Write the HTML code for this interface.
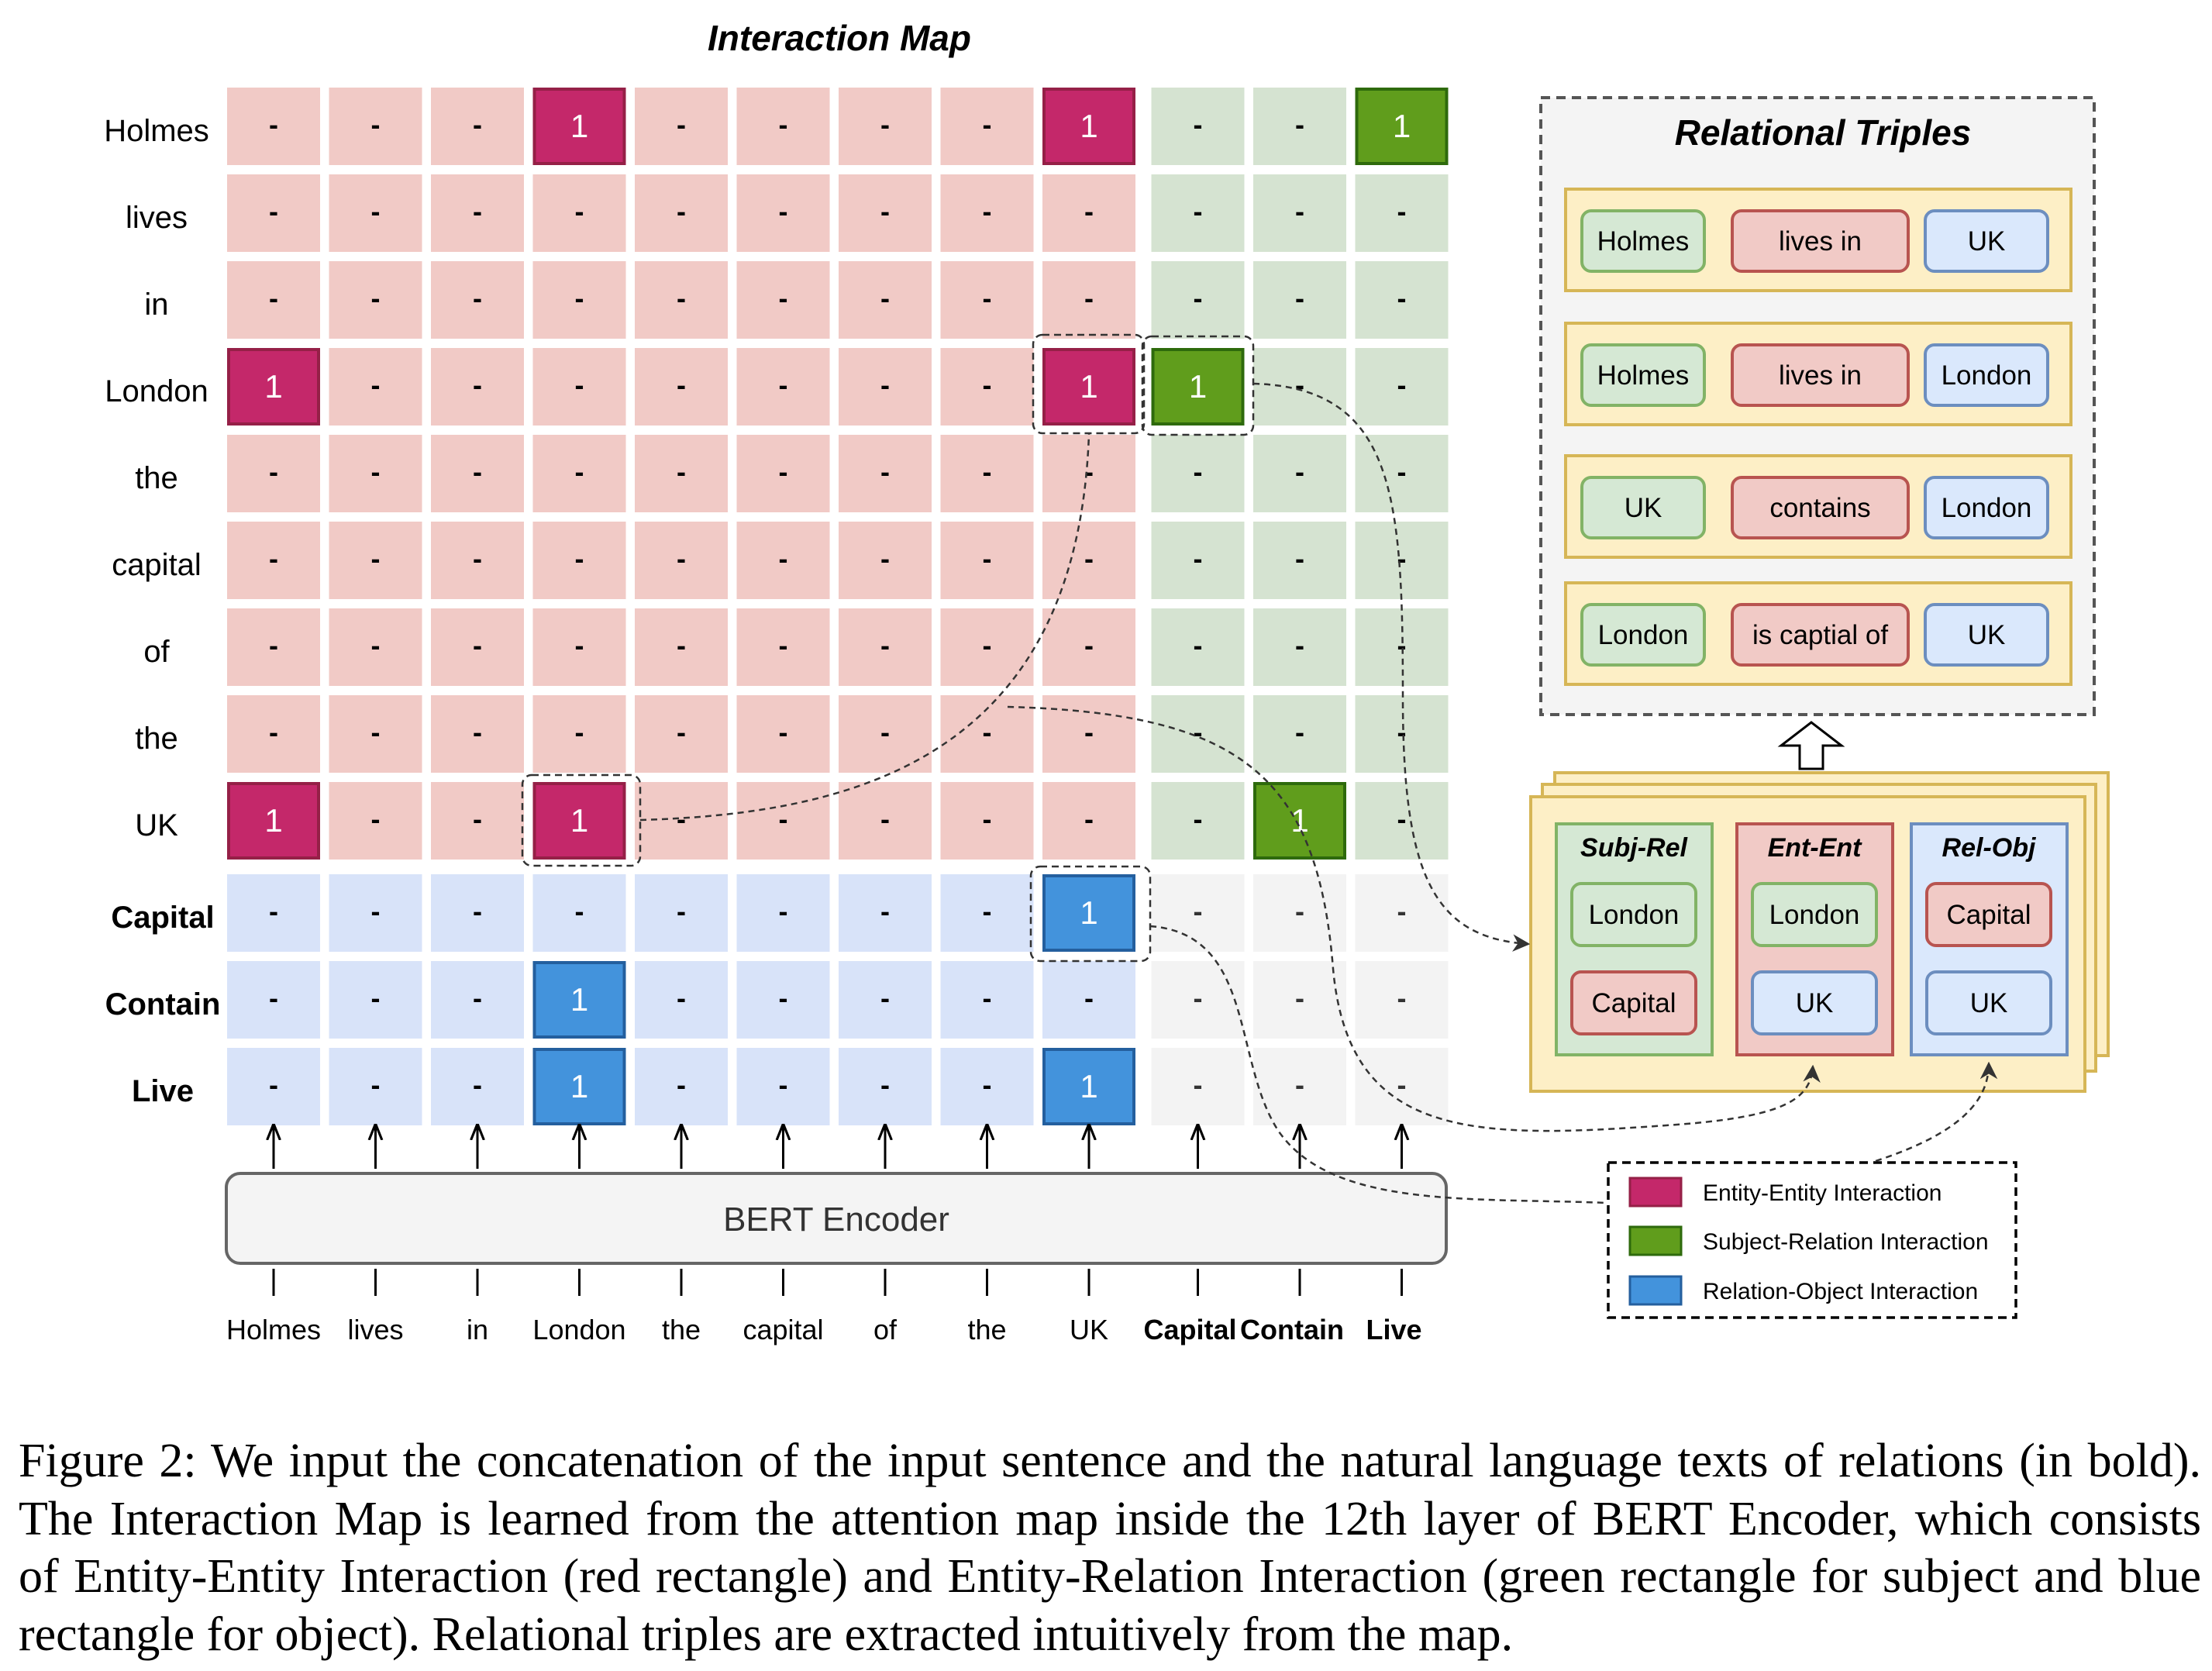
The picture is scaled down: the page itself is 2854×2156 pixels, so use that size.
<!DOCTYPE html>
<html><head><meta charset="utf-8"><style>
html,body{margin:0;padding:0;background:#fff;}
#wrap{position:relative;width:2854px;height:2156px;overflow:hidden;}
svg{position:absolute;left:0;top:0;}
#caption{position:absolute;left:24px;top:1848px;width:2816px;font-family:"Liberation Serif",serif;font-size:62px;line-height:74.5px;color:#000;}
#caption .ln{text-align:justify;text-align-last:justify;white-space:nowrap;}
#caption .ln.last{text-align-last:left;}
</style></head><body>
<div id="wrap">
<svg id="fig" width="2854" height="1840" viewBox="0 0 2854 1840" xmlns="http://www.w3.org/2000/svg">
<defs>
<marker id="ah" viewBox="0 0 10 10" refX="9" refY="5" markerWidth="9" markerHeight="9" orient="auto-start-reverse"><path d="M0,0 L10,5 L0,10 L3,5 z" fill="#333"/></marker>
<marker id="ah2" viewBox="0 0 10 10" refX="9" refY="5" markerWidth="7" markerHeight="7" orient="auto"><path d="M0,1 L10,5 L0,9" fill="none" stroke="#000" stroke-width="1.5"/></marker>
</defs>
<text x="1083" y="65" font-family="Liberation Sans, sans-serif" font-size="46" font-weight="bold" font-style="italic" text-anchor="middle">Interaction Map</text>
<g id="grid"></g>
<g id="inputs"></g>
<rect x="292" y="1514" width="1574" height="116" rx="18" fill="#f4f4f4" stroke="#666" stroke-width="4"/>
<text x="1079" y="1588" font-family="Liberation Sans, sans-serif" font-size="44" text-anchor="middle" fill="#333">BERT Encoder</text>

<g fill="none" stroke="#333" stroke-width="2.5" stroke-dasharray="9,6">
<rect x="1333" y="432" width="143" height="127" rx="12"/>
<rect x="1474" y="434" width="143" height="127" rx="12"/>
<rect x="674" y="1000" width="152" height="117" rx="12"/>
<rect x="1330" y="1118" width="154" height="122" rx="12"/>
</g>

<rect x="1988" y="126" width="714" height="796" fill="#f4f4f4" stroke="#555" stroke-width="4" stroke-dasharray="12,8"/>
<text x="2352" y="187" font-family="Liberation Sans, sans-serif" font-size="46" font-weight="bold" font-style="italic" text-anchor="middle">Relational Triples</text>
<g id="triples"></g>

<path d="M2322,992 L2322,962 L2298,962 L2337,932 L2376,962 L2352,962 L2352,992 Z" fill="#fff" stroke="#000" stroke-width="3"/>

<rect x="2006" y="997" width="714" height="365" fill="#fdefc6" stroke="#d6b656" stroke-width="4"/>
<rect x="1990" y="1012" width="714" height="370" fill="#fdefc6" stroke="#d6b656" stroke-width="4"/>
<rect x="1975" y="1028" width="715" height="380" fill="#fdefc6" stroke="#d6b656" stroke-width="4"/>
<g id="panels"></g>

<rect x="2075" y="1500" width="526" height="200" fill="#fff" stroke="#000" stroke-width="3.5" stroke-dasharray="11,7"/>
<g font-family="Liberation Sans, sans-serif" font-size="30">
<rect x="2103" y="1520" width="66" height="36" fill="#c4286a" stroke="#952047" stroke-width="3"/>
<text x="2197" y="1549">Entity-Entity Interaction</text>
<rect x="2103" y="1583" width="66" height="36" fill="#609d1c" stroke="#2e6a0c" stroke-width="3"/>
<text x="2197" y="1612">Subject-Relation Interaction</text>
<rect x="2103" y="1647" width="66" height="36" fill="#4393dc" stroke="#245f9e" stroke-width="3"/>
<text x="2197" y="1676">Relation-Object Interaction</text>
</g>

<g fill="none" stroke="#333" stroke-width="2.5" stroke-dasharray="8,6">
<path d="M826,1058 C1100,1050 1390,980 1405,560"/>
<path d="M1300,912 C1600,920 1700,1000 1720,1250 C1740,1470 1900,1470 2150,1452 C2300,1442 2336,1420 2339,1376" marker-end="url(#ah)"/>
<path d="M1617,495 C1800,500 1810,640 1810,900 C1810,1130 1850,1210 1972,1218" marker-end="url(#ah)"/>
<path d="M1484,1195 C1620,1205 1590,1370 1650,1460 C1720,1560 1900,1545 2073,1552"/>
<path d="M2420,1498 C2530,1462 2566,1420 2566,1372" marker-end="url(#ah)"/>
</g>
</svg>
<div id="caption"><div class="ln">Figure 2: We input the concatenation of the input sentence and the natural language texts of relations (in bold).</div><div class="ln">The Interaction Map is learned from the attention map inside the 12th layer of BERT Encoder, which consists</div><div class="ln">of Entity-Entity Interaction (red rectangle) and Entity-Relation Interaction (green rectangle for subject and blue</div><div class="ln last">rectangle for object). Relational triples are extracted intuitively from the map.</div></div>
</div>
<script>
const rowTokens = ["Holmes","lives","in","London","the","capital","of","the","UK","Capital","Contain","Live"];
const colTokens = ["Holmes","lives","in","London","the","capital","of","the","UK","Capital","Contain","Live"];
const boldTokens = [false,false,false,false,false,false,false,false,false,true,true,true];
const onesRow = [0,0,0,3,3,3,8,8,8,9,10,11,11];
const onesCol = [3,8,11,0,8,9,0,3,10,8,3,3,8];
const triplesSubj = ["Holmes","Holmes","UK","London"];
const triplesRel = ["lives in","lives in","contains","is captial of"];
const triplesObj = ["UK","London","London","UK"];

const NS="http://www.w3.org/2000/svg";
function mk(tag,attrs,parent,txt){const e=document.createElementNS(NS,tag);for(const k in attrs)e.setAttribute(k,attrs[k]);if(txt!==undefined)e.textContent=txt;parent.appendChild(e);return e;}
function colX(j){return 293+j*131.5+(j>=9?9:0);}
function rowY(i){return 113+i*112+(i>=9?7:0);}
const CW=120,CH=100;
const grid=document.getElementById('grid');
const ones={};onesRow.forEach((r,k)=>ones[r+'_'+onesCol[k]]=true);
const FT='Liberation Sans, sans-serif';
for(let i=0;i<rowTokens.length;i++){
  const lab=mk('text',{x:i>=9?210:202,y:rowY(i)+CH/2+19,'font-family':FT,'font-size':40,'text-anchor':'middle','font-weight':boldTokens[i]?'bold':'normal'},grid,rowTokens[i]);
  
  
  for(let j=0;j<colTokens.length;j++){
    const ee=i<9&&j<9, sr=i<9&&j>=9, ro=i>=9&&j<9;
    let bg=ee?'#f1cac6':sr?'#d5e3d1':ro?'#d8e3f9':'#f3f3f3';
    let strong=ee?'#c4286a':sr?'#609d1c':'#4393dc';
    let sk=ee?'#952047':sr?'#2e6a0c':'#245f9e';
    const one=ones[i+'_'+j];
    const r=mk('rect',one?{x:colX(j)+2,y:rowY(i)+2,width:CW-4,height:CH-4,fill:strong,stroke:sk,'stroke-width':4}:{x:colX(j),y:rowY(i),width:CW,height:CH,fill:bg},grid);
    
    
    const t=mk('text',{x:colX(j)+CW/2,y:rowY(i)+CH/2+(one?14:10),'font-family':FT,'font-size':one?42:36,'text-anchor':'middle',fill:one?'#fff':((i>=9&&j>=9)?'#333':'#000'),'font-weight':one?'normal':'bold'},grid,one?'1':'-');
    
    
  }
}
const inp=document.getElementById('inputs');
for(let j=0;j<colTokens.length;j++){
  const cx=colX(j)+CW/2;
  const a=mk('line',{x1:cx,y1:1508,x2:cx,y2:1452,stroke:'#000','stroke-width':3,'marker-end':'url(#ah2)'},inp);
  
  
  const l=mk('line',{x1:cx,y1:1637,x2:cx,y2:1672,stroke:'#000','stroke-width':3},inp);
  
  
  const t=mk('text',{x:cx+(j>=9?-10:0),y:1728,'font-family':FT,'font-size':36,'text-anchor':'middle','font-weight':boldTokens[j]?'bold':'normal'},inp,colTokens[j]);
  
  
}
function pill(parent,x,y,w,h,fill,stroke,txt,name){
  const r=mk('rect',{x:x,y:y,width:w,height:h,rx:12,fill:fill,stroke:stroke,'stroke-width':4},parent);
  
  
  const t=mk('text',{x:x+w/2,y:y+h/2+12,'font-family':FT,'font-size':35,'text-anchor':'middle'},parent,txt);
  
  
}
const G=['#d5e8d4','#82b366'],R=['#f1cac6','#b85450'],B=['#dae8fc','#6c8ebf'];
const tr=document.getElementById('triples');
const rowYs=[244,417,588,752];
for(let k=0;k<triplesSubj.length;k++){
  const y=rowYs[k];
  const r=mk('rect',{x:2020,y:y,width:652,height:131,fill:'#fdefc6',stroke:'#d6b656','stroke-width':4},tr);
  
  
  pill(tr,2041,y+28,158,78,G[0],G[1],triplesSubj[k],'triple-subject-'+k);
  pill(tr,2235,y+28,227,78,R[0],R[1],triplesRel[k],'triple-relation-'+k);
  pill(tr,2484,y+28,158,78,B[0],B[1],triplesObj[k],'triple-object-'+k);
}
const pn=document.getElementById('panels');
const panels=[["Subj-Rel",2008,G,[["London",G],["Capital",R]]],["Ent-Ent",2241,R,[["London",G],["UK",B]]],["Rel-Obj",2466,B,[["Capital",R],["UK",B]]]];
panels.forEach((p,k)=>{
  const r=mk('rect',{x:p[1],y:1063,width:201,height:298,fill:p[2][0],stroke:p[2][1],'stroke-width':4},pn);
  
  
  const t=mk('text',{x:p[1]+100,y:1105,'font-family':FT,'font-size':34,'font-weight':'bold','font-style':'italic','text-anchor':'middle'},pn,p[0]);
  
  
  pill(pn,p[1]+20,1140,160,80,p[3][0][1][0],p[3][0][1][1],p[3][0][0],'panel-'+k+'-item-0');
  pill(pn,p[1]+20,1254,160,80,p[3][1][1][0],p[3][1][1][1],p[3][1][0],'panel-'+k+'-item-1');
});
</script>
</body></html>
